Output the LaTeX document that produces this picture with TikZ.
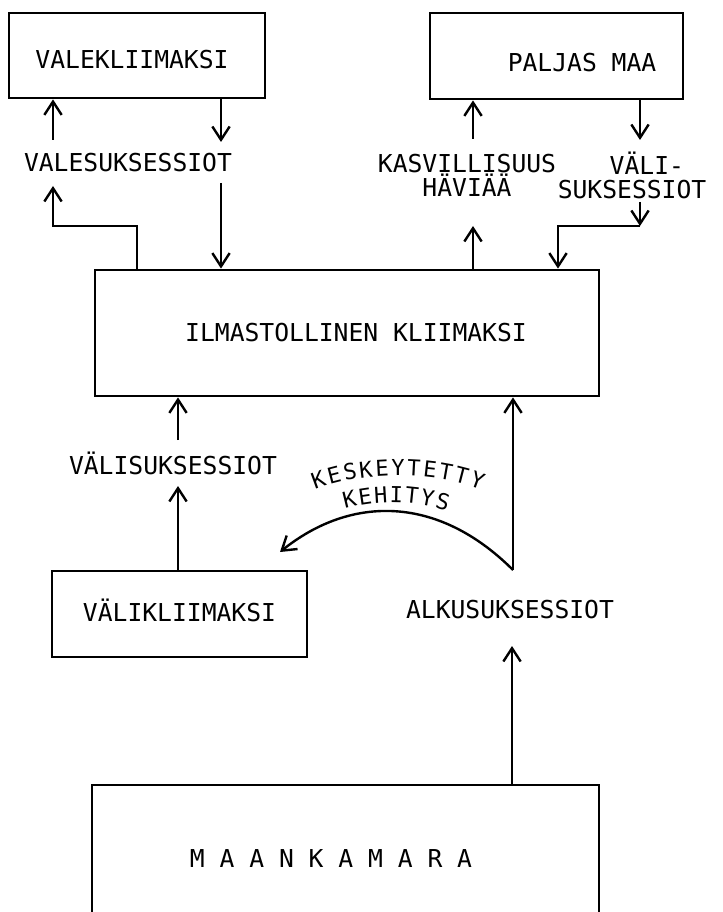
\documentclass[tikz,border=0pt]{standalone}
\usepackage{fontspec}
\setmonofont{DejaVu Sans Mono}
\usetikzlibrary{arrows.meta,decorations.text}
\newcommand\lblf{\ttfamily\fontsize{18.5}{18}\selectfont}
\newcommand\crvf{\ttfamily\fontsize{16.5}{16}\selectfont}
\begin{document}
\begin{tikzpicture}[x=0.75pt,y=-0.75pt,
  box/.style={draw, line width=2.1pt, inner sep=0pt},
  lbl/.style={font=\lblf, inner sep=0pt, align=center},
  conn/.style={line width=1.8pt, -{Straight Barb[length=10pt,width=13pt,line width=1.8pt]}}]
\useasboundingbox (0,0) rectangle (722,912);

% boxes
\node[box, minimum width=192pt, minimum height=63.75pt] (vk) at (137,55.5) {};
\node[lbl] (vkt) at (132,60) {VALEKLIIMAKSI};
\node[box, minimum width=189.75pt, minimum height=64.5pt] (pm) at (556.5,56) {};
\node[lbl] (pmt) at (582,63) {PALJAS MAA};
\node[box, minimum width=378pt, minimum height=94.5pt] (ik) at (347,333) {};
\node[lbl] (ikt) at (356,333) {ILMASTOLLINEN KLIIMAKSI};
\node[box, minimum width=191.25pt, minimum height=64.5pt] (vkl) at (179.5,614) {};
\node[lbl] (vklt) at (179.5,610) {VÄLIKLIIMAKSI};
\node[box, minimum width=380.25pt, minimum height=98.25pt] (mk) at (345.5,850.5) {};
\node[lbl] (mkt) at (331,858) {M A A N K A M A R A};

% labels
\node[lbl] (valesuk) at (128,163) {VALESUKSESSIOT};
\node[lbl] (kasv) at (467,175) {KASVILLISUUS\\HÄVIÄÄ};
\node[lbl] (vali) at (632,175) {\hphantom{XX}VÄLI-\\SUKSESSIOT};
\node[lbl] (valisuk) at (173,463) {VÄLISUKSESSIOT};
\node[lbl] (alku) at (510,610) {ALKUSUKSESSIOT};

% free ends
\coordinate (a1) at (53,140);
\coordinate (a2) at (221,142);
\coordinate (a3) at (221,183);
\coordinate (a4) at (137,226);
\coordinate (a5) at (53,186);
\coordinate (b1) at (473,139);
\coordinate (b2) at (473,226);
\coordinate (c1) at (640,140);
\coordinate (c2) at (640,202);
\coordinate (c3) at (640,226);
\coordinate (c4) at (558,226);
\coordinate (d1) at (178,440);
\coordinate (d2) at (178,486);
\coordinate (e1) at (512,646);
\coordinate (e2) at (513,570);
\coordinate (e3) at (280,552);

% connectors
\draw[conn] (a1) -- (a1 |- vk.south);
\draw[conn] (a2 |- vk.south) -- (a2);
\draw[conn] (a3) -- (a3 |- ik.north);
\draw[conn] (a4 |- ik.north) -- (a4) -- (a4 -| a5) -- (a5);
\draw[conn] (b1) -- (b1 |- pm.south);
\draw[conn] (b2 |- ik.north) -- (b2);
\draw[conn] (c1 |- pm.south) -- (c1);
\draw[conn] (c2) -- (c3);
\draw[conn] (c3) -- (c4) -- (c4 |- ik.north);
\draw[conn] (d1) -- (d1 |- ik.south);
\draw[conn] (d2 |- vkl.north) -- (d2);
\draw[conn] (e1 |- mk.north) -- (e1);
\draw[conn] (e2) -- (e2 |- ik.south);
\draw[conn] (e2) .. controls (438,495) and (351,495) .. (e3);

% curved label
\path[decorate, decoration={text along path, text align=fit to path,
  text={|\crvf|KESKEYTETTY}}] (315,490) .. controls (360,471) and (436,471) .. (481,490);
\path[decorate, decoration={text along path, text align=fit to path,
  text={|\crvf|KEHITYS}}] (345,509) .. controls (376,500) and (414,500) .. (447,511);
\end{tikzpicture}
\end{document}
